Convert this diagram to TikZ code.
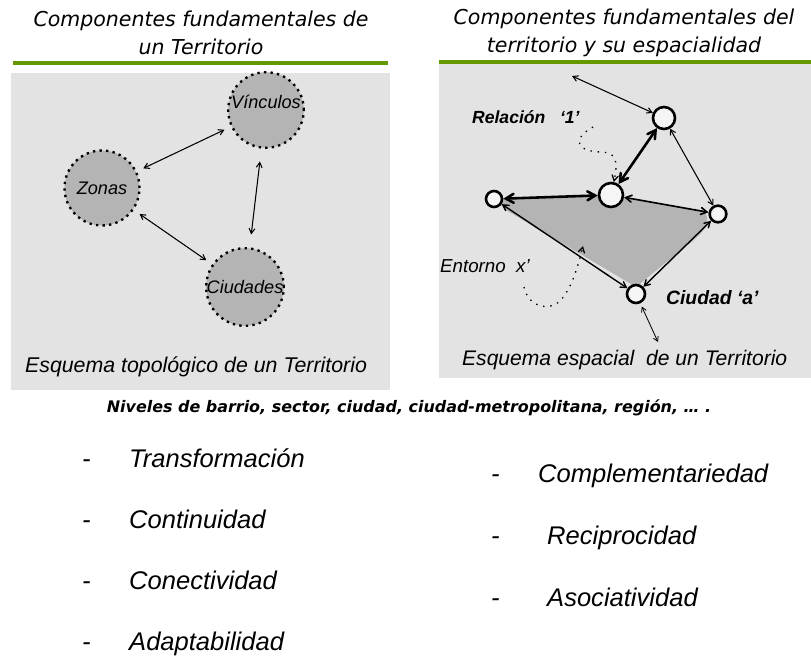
\documentclass[tikz,border=0pt]{standalone}
\usepackage{fontspec}
\setmainfont{Liberation Sans}
\newfontfamily\comicfont{DejaVu Sans}
\usetikzlibrary{arrows}
\usetikzlibrary{positioning}
\definecolor{fondo}{HTML}{E3E3E3}
\definecolor{verde}{HTML}{669900}
\definecolor{relleno}{HTML}{B4B4B4}
\tikzstyle{zona}=[circle,fill=relleno,draw=black,line width=2pt,dash pattern=on 2pt off 3.6pt,minimum size=2.25cm,inner sep=0pt,font=\fontsize{15.5}{17}\selectfont\itshape]
\tikzstyle{punto}=[circle,fill=black!4,draw=black,line width=2.2pt,inner sep=0pt]
\tikzstyle{enlace}=[draw,<->,>=angle 60,line width=0.9pt]
\tikzstyle{fuerte}=[draw,<->,>=angle 60,line width=2.2pt]
\tikzstyle{punteado}=[draw,->,>=angle 60,line width=1.1pt,dash pattern=on 1.2pt off 5pt]
\tikzstyle{titulo}=[align=center,font=\comicfont\fontsize{17.5}{24}\selectfont\itshape]
\tikzstyle{item}=[anchor=west,inner sep=0pt,text height=2ex,text depth=0.5ex,font=\fontsize{21.8}{23}\selectfont\itshape]

\begin{document}
\begin{tikzpicture}[x=0.03cm,y=-0.03cm]
		\useasboundingbox (0,0) rectangle (811,657);
		\fill[white] (0,0) rectangle (811,657);
		
		% paneles
		\fill[fondo] (11,73) rectangle (390,390);
		\fill[fondo] (439,64) rectangle (811,378);
		\fill[verde] (13,61) rectangle (388,65);
		\fill[verde] (439,60) rectangle (811,64);
		\node[titulo] (t1) at (201,33) {Componentes fundamentales de\\un Territorio};
		\node[titulo] (t2) at (624,33) {Componentes fundamentales del\\territorio y su espacialidad};
		
		% esquema topologico
		\node[zona,text depth=14pt] (vinculos) at (266,110) {V\'inculos};
		\node[zona] (zonas) at (102,188) {Zonas};
		\node[zona] (ciudades) at (245,287) {Ciudades};
		
		\draw[enlace,shorten <=6pt,shorten >=6pt] (zonas) to (vinculos);
		\draw[enlace,shorten <=11pt,shorten >=11pt] (vinculos) to (ciudades);
		\draw[enlace,shorten <=6pt,shorten >=6pt] (zonas) to (ciudades);
		\node[anchor=west,font=\fontsize{18.2}{20}\selectfont\itshape] (e1) at (21,367) {Esquema topol\'ogico de un Territorio};
		
		% esquema espacial
		\fill[relleno] (494,199) -- (611,195) -- (705,212) .. controls (714,228) and (696,238) .. (664,264) -- (636,287) -- (506,210) -- cycle;
		\node[punto,minimum size=0.66cm] (n1) at (664,118) {};
		\node[punto,minimum size=0.72cm] (n2) at (611,195) {};
		\node[punto,minimum size=0.48cm] (n3) at (494,199) {};
		\node[punto,minimum size=0.5cm] (n4) at (718,214) {};
		\node[punto,minimum size=0.54cm] (n5) at (636,294) {};
		\coordinate (c1) at (572,76);
		\coordinate (c2) at (658,342);
		
		\draw[enlace] (c1) to (n1);
		\draw[fuerte] (n1) to (n2);
		\draw[enlace] (n1) to (n4);
		\draw[fuerte] (n3) to (n2);
		\draw[enlace,line width=1.4pt] (n2) to (n4);
		\draw[enlace,line width=1.2pt] (n3) to (n5);
		\draw[enlace,line width=1.2pt] (n4) to (n5);
		\draw[enlace,line width=0.7pt,shorten <=3pt] (n5) to (c2);
		
		\node[anchor=west,font=\fontsize{15}{17}\selectfont\bfseries\itshape] (rel) at (468,117) {Relaci\'on\ \ \ `1'};
		\node[anchor=west,font=\fontsize{16}{18}\selectfont\itshape] (ent) at (436,266) {Entorno\ \ x'};
		\node[anchor=west,font=\fontsize{16.5}{18}\selectfont\bfseries\itshape] (ciu) at (662,298) {Ciudad `a'};
		\coordinate (d1) at (593,127);
		\coordinate (d2) at (524,287);
		\draw[punteado] (d1) .. controls (570,140) and (578,152) .. (602,152) .. controls (614,153) and (619,158) .. (n2);
		\draw[punteado] (d2) .. controls (526,300) and (540,312) .. (556,304) .. controls (568,296) and (576,275) .. (583,246);
		\node[anchor=west,font=\fontsize{18}{20}\selectfont\itshape] (e2) at (458,360) {Esquema espacial\ \ de un Territorio};
		
		% niveles y propiedades
		\node[font=\comicfont\fontsize{13.6}{15}\selectfont\bfseries\itshape] (niv) at (409,408) {Niveles de barrio, sector, ciudad, ciudad-metropolitana, regi\'on, \dots\ .};
		\node[item] (g1) at (82,463) {-};
		\node[item] (p1) at (129,463) {Transformaci\'on};
		\node[item] (g2) at (82,524) {-};
		\node[item] (p2) at (129,524) {Continuidad};
		\node[item] (g3) at (82,585) {-};
		\node[item] (p3) at (129,585) {Conectividad};
		\node[item] (g4) at (82,646) {-};
		\node[item] (p4) at (129,646) {Adaptabilidad};
		\node[item] (g5) at (491,478) {-};
		\node[item] (p5) at (538,478) {Complementariedad};
		\node[item] (g6) at (491,540) {-};
		\node[item] (p6) at (547,540) {Reciprocidad};
		\node[item] (g7) at (491,602) {-};
		\node[item] (p7) at (547,602) {Asociatividad};
		
		\end{tikzpicture}
\end{document}
